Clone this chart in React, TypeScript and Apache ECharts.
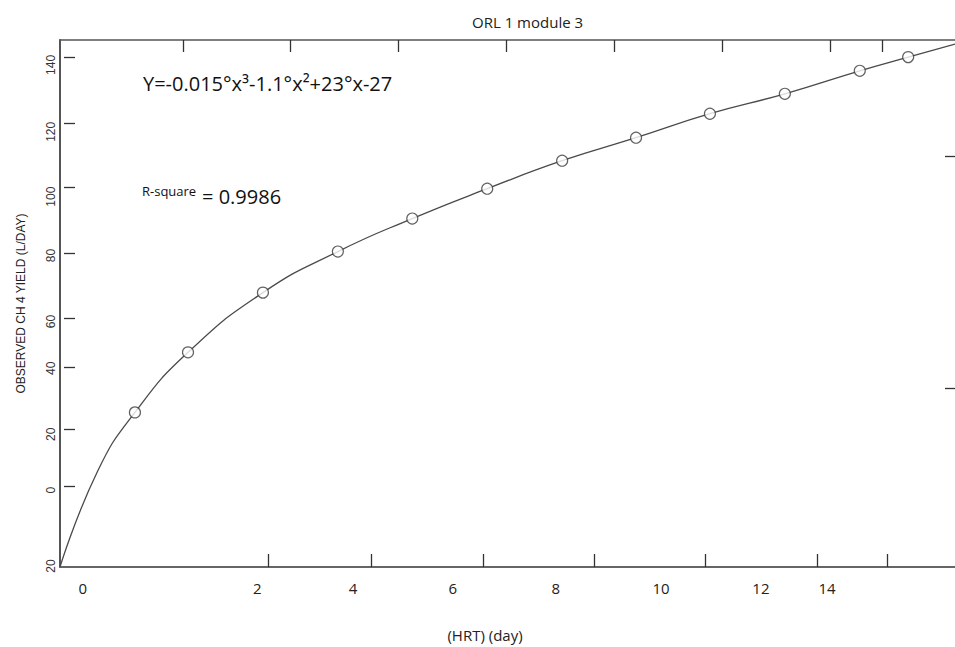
import React, { useEffect, useRef } from "react";
import * as echarts from "echarts";

// ---- data (axis units) ----
const xData = [0.14, 1.16, 2.6, 4.04, 5.47, 6.91, 8.35, 9.77, 11.19, 12.63, 14.07, 15.0];
const yData = [27.0, 46.3, 65.5, 78.7, 89.3, 98.9, 107.9, 115.3, 123.0, 129.4, 136.8, 141.2];
// fitted-curve extension before first and after last observed point
const curveHeadX = [-1.3, -0.58];
const curveHeadY = [-22.7, 8.0];
const curveTailX = [15.9];
const curveTailY = [145.4];

// axis ranges
const xMin = -1.3;
const xMax = 15.9;
const yMin = -22.7;
const yMax = 146.7;

// tick labels as printed in the figure, and where they sit on the axis
const xLabelTexts = ["0", "2", "4", "6", "8", "10", "12", "14"];
const xLabelPos = [-0.86, 2.49, 4.33, 6.25, 8.23, 10.25, 12.17, 13.44];
const xBottomTicks = [2.7, 4.68, 6.83, 8.96, 11.1, 13.25, 14.59];
const xTopTicks = [1.06, 3.12, 5.2, 7.27, 9.35, 11.42, 13.5, 14.5];

const yLabelTexts = ["20", "0", "20", "40", "60", "80", "100", "120", "140"];
const yLabelPos = [-22.38, 2.0, 19.97, 41.15, 56.22, 77.4, 96.33, 117.18, 138.68];
const yLeftTicks = [3.29, 21.57, 41.47, 57.19, 78.36, 99.54, 120.07, 141.24];
const yRightTicks = [34.73, 109.48];

const titleText = "ORL 1 module 3";
const xName = "(HRT) (day)";
const yName = "OBSERVED CH 4 YIELD (L/DAY)";
const equationText = "Y=-0.015°x³-1.1°x²+23°x-27";
const rLabel = "R-square";
const rValue = "= 0.9986";

function nearestText(v: number, pos: number[], texts: string[]) {
  let best = 0;
  let bd = Infinity;
  pos.forEach((p, i) => {
    const d = Math.abs(p - v);
    if (d < bd) {
      bd = d;
      best = i;
    }
  });
  return texts[best];
}

export default function App() {
  const ref = useRef<HTMLDivElement>(null);
  useEffect(() => {
    if (!ref.current) return;
    const chart = echarts.init(ref.current, null, { renderer: "svg" });
    const curve: number[][] = [];
    curveHeadX.forEach((x, i) => curve.push([x, curveHeadY[i]]));
    xData.forEach((x, i) => curve.push([x, yData[i]]));
    curveTailX.forEach((x, i) => curve.push([x, curveTailY[i]]));
    const points = xData.map((x, i) => [x, yData[i]]);
    const axisColor = "#555";
    const tickColor = "#333";
    chart.setOption({
      animation: false,
      backgroundColor: "#ffffff",
      title: {
        text: titleText,
        left: 467,
        top: 9,
        textStyle: { fontFamily: "Open Sans", fontSize: 15, fontWeight: "normal", color: "#222" },
      },
      grid: { left: 60, top: 40, right: 0, bottom: 79, containLabel: false },
      xAxis: [
        {
          type: "value",
          position: "bottom",
          min: xMin,
          max: xMax,
          name: xName,
          nameLocation: "middle",
          nameGap: 60,
          nameTextStyle: {
            fontFamily: "Open Sans",
            fontSize: 15,
            color: "#222",
            padding: [0, 45, 0, 0],
          },
          axisLine: { show: true, onZero: false, lineStyle: { color: "#666", width: 2 } },
          axisTick: {
            show: true,
            inside: true,
            length: 13,
            customValues: xBottomTicks,
            lineStyle: { color: tickColor, width: 1.3 },
          },
          axisLabel: {
            show: true,
            margin: 13,
            customValues: xLabelPos,
            fontFamily: "Open Sans",
            fontSize: 15,
            color: "#222",
            formatter: (v: number) => nearestText(v, xLabelPos, xLabelTexts),
          },
          splitLine: { show: false },
        },
        {
          type: "value",
          position: "top",
          min: xMin,
          max: xMax,
          axisLine: { show: true, onZero: false, lineStyle: { color: axisColor, width: 1.5 } },
          axisTick: {
            show: true,
            inside: true,
            length: 12,
            customValues: xTopTicks,
            lineStyle: { color: tickColor, width: 1.3 },
          },
          axisLabel: { show: false },
          splitLine: { show: false },
        },
      ],
      yAxis: [
        {
          type: "value",
          position: "left",
          min: yMin,
          max: yMax,
          name: yName,
          nameLocation: "middle",
          nameGap: 33,
          nameTextStyle: { fontFamily: "Liberation Sans", fontSize: 12, color: "#222" },
          axisLine: { show: true, onZero: false, lineStyle: { color: axisColor, width: 2 } },
          axisTick: { show: false },
          axisLabel: {
            show: true,
            rotate: 90,
            margin: 3,
            customValues: yLabelPos,
            fontFamily: "Liberation Sans",
            fontSize: 12,
            color: "#333",
            formatter: (v: number) => nearestText(v, yLabelPos, yLabelTexts),
          },
          splitLine: { show: false },
        },
        {
          type: "value",
          position: "right",
          min: yMin,
          max: yMax,
          axisLine: { show: false, onZero: false },
          axisTick: {
            show: true,
            inside: true,
            length: 10,
            customValues: yRightTicks,
            lineStyle: { color: tickColor, width: 1.3 },
          },
          axisLabel: { show: false },
          splitLine: { show: false },
        },
      ],
      series: [
        {
          type: "line",
          data: curve,
          smooth: 0.5,
          showSymbol: false,
          symbol: "none",
          lineStyle: { color: "#4a4a4a", width: 1.3 },
          z: 2,
          silent: true,
        },
        {
          type: "scatter",
          data: points,
          symbol: "circle",
          symbolSize: 11,
          itemStyle: { color: "#ffffff", borderColor: "#3a3a3a", borderWidth: 1.2 },
          z: 3,
        },
      ],
    });

    // left-axis tick marks placed through the y axis scale
    const axisX = chart.convertToPixel({ xAxisIndex: 0 }, xMin) as number;
    const leftTickEls = yLeftTicks.map((v) => {
      const py = Math.round(chart.convertToPixel({ yAxisIndex: 0 }, v) as number) + 0.5;
      return {
        type: "line",
        silent: true,
        shape: { x1: axisX + 4, y1: py, x2: axisX + 15, y2: py },
        style: { stroke: tickColor, lineWidth: 1.3 },
        z: 5,
      };
    });

    chart.setOption({
      graphic: [
        ...leftTickEls,
        {
          type: "text",
          left: 143,
          top: 73,
          style: {
            text: equationText,
            fontFamily: "Open Sans",
            fontSize: 20,
            fill: "#111",
          },
        },
        {
          type: "text",
          left: 142,
          top: 184,
          style: { text: rLabel, fontFamily: "Open Sans", fontSize: 13, fill: "#111" },
        },
        {
          type: "text",
          left: 202,
          top: 186,
          style: { text: rValue, fontFamily: "Open Sans", fontSize: 20, fill: "#111" },
        },
      ],
    });
    return () => chart.dispose();
  }, []);
  return (
    <div
      ref={ref}
      style={{ position: "absolute", left: 0, top: 0, width: 955, height: 647 }}
    />
  );
}
